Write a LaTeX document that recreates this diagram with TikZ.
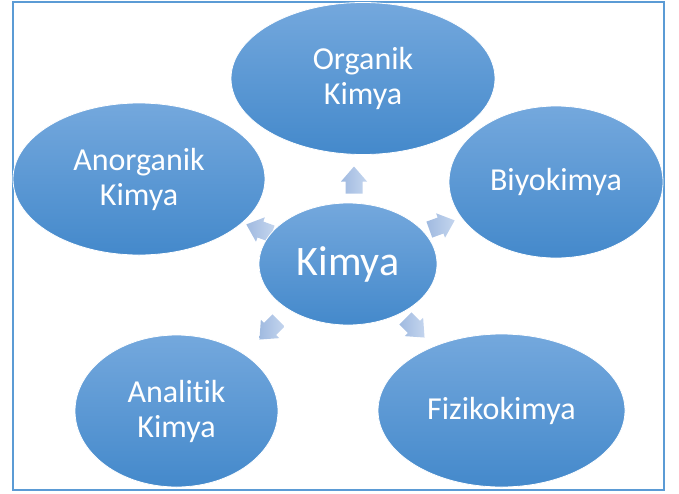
\documentclass[tikz,border=0pt]{standalone}
\usepackage{fontspec}
\setmainfont{Carlito}[Ligatures={NoCommon,NoRare}]
\definecolor{frameblue}{RGB}{91,155,213}
\definecolor{elltop}{RGB}{116,168,221}
\definecolor{ellbot}{RGB}{68,137,203}
\definecolor{arrtip}{RGB}{196,213,238}
\definecolor{arrbase}{RGB}{160,186,224}
\tikzset{
  bubble/.style={ellipse, draw=white, line width=0.8pt, top color=elltop, bottom color=ellbot,
    text=white, align=center, inner sep=0pt, font=\fontsize{32}{35}\selectfont},
  radarrow/.pic={
    \shade[left color=arrbase, right color=arrtip, draw=none]
      (-13.5,-8.5) -- (-1.5,-8.5) -- (-1.5,-13) -- (13.5,0) -- (-1.5,13) -- (-1.5,8.5) -- (-13.5,8.5) -- cycle;
  }
}
\usetikzlibrary{shapes.geometric}
\begin{document}
\begin{tikzpicture}[x=1pt,y=-1pt]
\useasboundingbox (0,0) rectangle (679,493);
\draw[frameblue, line width=1.4pt] (13,2) rectangle (664,490);

\pic[rotate=90] at (354,180) {radarrow};
\pic[rotate=160] at (259,229) {radarrow};
\pic[rotate=20] at (442,225) {radarrow};
\pic[rotate=225] at (269,330) {radarrow};
\pic[rotate=315] at (415,328) {radarrow};

\node[bubble, minimum width=264pt, minimum height=152pt] (org) at (363,78.5) {Organik\\Kimya};
\node[bubble, minimum width=252pt, minimum height=152pt] (anorg) at (139,179) {Anorganik\\Kimya};
\node[bubble, minimum width=214pt, minimum height=152pt] (biyo) at (556,182) {Biyokimya};
\node[bubble, minimum width=203pt, minimum height=152pt] (anal) at (176.5,411) {Analitik\\Kimya};
\node[bubble, minimum width=247pt, minimum height=153pt] (fiz) at (501.5,410.5) {Fizikokimya};
\node[bubble, minimum width=178pt, minimum height=122pt, font=\fontsize{42}{46}\selectfont] (kimya) at (348,264) {Kimya};
\end{tikzpicture}
\end{document}
